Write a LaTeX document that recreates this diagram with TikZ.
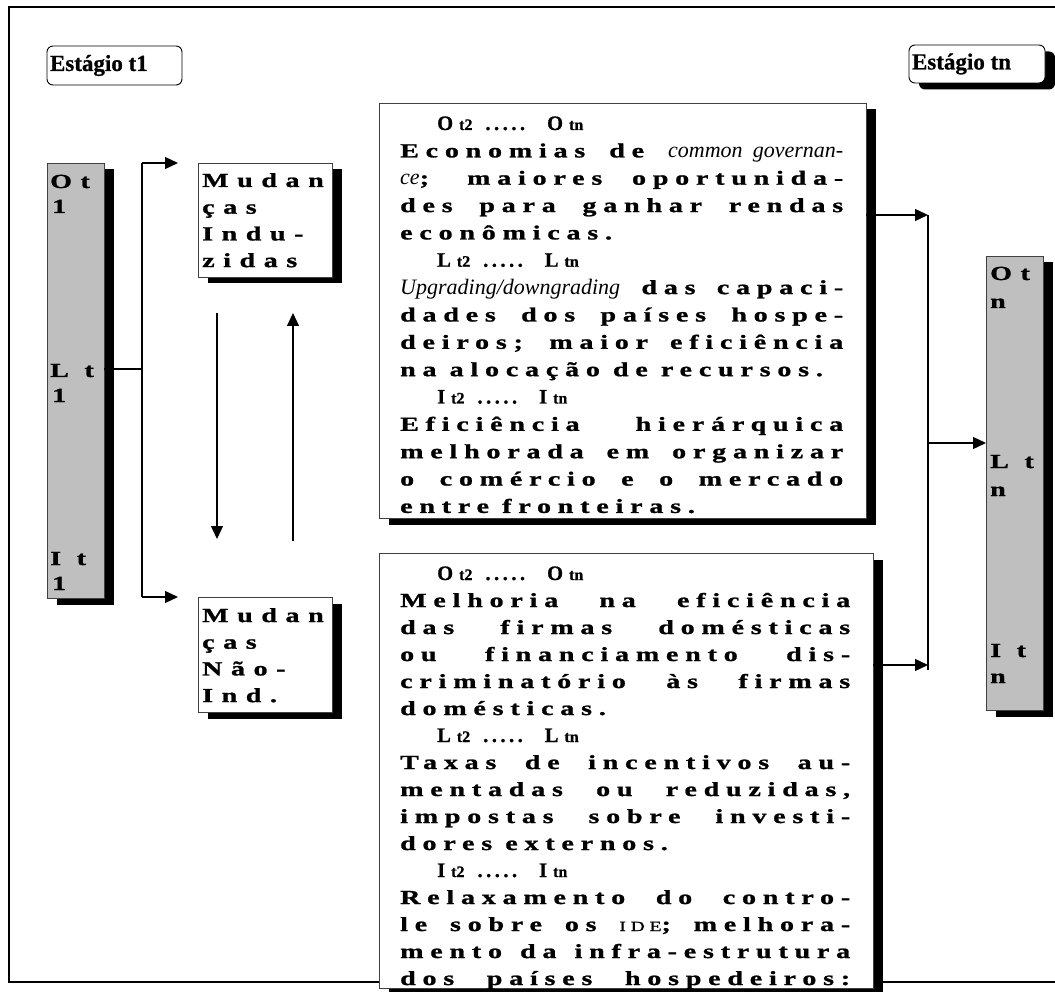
\documentclass[tikz,border=0pt]{standalone}
\usepackage{graphicx}
\usepackage{fontspec}
\setmainfont{Liberation Serif}
\newfontfamily\spfont[LetterSpace=34,FakeStretch=1.4,FakeBold=1.2,WordSpace=0.95,Ligatures=CommonOff]{Liberation Serif}
\newfontfamily\spfontb[LetterSpace=43,FakeStretch=1.4,FakeBold=1.2,Ligatures=CommonOff]{Liberation Serif}
\newfontfamily\hdfont[FakeBold=0.8]{Liberation Serif}
\usetikzlibrary{arrows.meta,shadows,calc}
\newlength\W
\newsavebox\jb
\newcommand\nsi[1]{{\rmfamily\mdseries\itshape\fontsize{22}{22}\selectfont #1}}
\newcommand\jl[1]{\leavevmode\sbox\jb{#1}\ifdim\wd\jb>\W\resizebox{\W}{!}{\usebox\jb}\else\makebox[\W][s]{#1}\fi\par}
\newcommand\lastl[1]{\leavevmode\mbox{#1}\par}
\newcommand\subt[1]{{\fontsize{16}{16}\selectfont #1}}
\newcommand\hd[1]{\leavevmode\mbox{\hspace*{37pt}\hdfont\bfseries\fontsize{20.5}{20.5}\selectfont #1\kern6pt\subt{t2}\hspace{13pt}.\kern3.5pt.\kern3.5pt.\kern3.5pt.\kern3.5pt.\hspace{22pt}#1\kern6pt\subt{tn}}\par}
\newcommand\blk[3]{\vtop{\hsize=#1\relax\W=#1\relax\parindent=0pt\parskip=0pt\lineskiplimit=-100pt\spfont\bfseries\fontsize{20}{#2}\selectfont #3}}
\newcommand\smallblk[1]{\vtop{\hsize=130pt\parindent=0pt\parskip=0pt\lineskiplimit=-100pt\spfontb\bfseries\fontsize{20}{26.7}\selectfont #1}}
\begin{document}
\begin{tikzpicture}[x=1pt,y=-1pt,
  boxline/.style={draw=black!75, line width=0.9pt},
  shadowed/.style={drop shadow={fill=black, opacity=1, shadow xshift=10pt, shadow yshift=-6.5pt}},
  whitebox/.style={boxline, fill=white, inner sep=0pt, outer sep=0pt, anchor=north west, shadowed},
  graycol/.style={whitebox, fill=black!25},
  stagebox/.style={draw=black, line width=0.9pt, rounded corners=6pt, fill=white, inner sep=0pt, outer sep=0pt, anchor=north west, font=\hdfont\bfseries\fontsize{23}{23}\selectfont},
  lbl/.style={inner sep=0pt, anchor=base west, font=\spfontb\bfseries\fontsize{20}{20}\selectfont},
  conn/.style={line width=1.3pt},
  arr/.style={conn, -{Triangle[length=13pt,width=12pt]}},
  txt/.style={inner sep=0pt, anchor=base west}]
\useasboundingbox (0,0) rectangle (1055,992);
\draw[line width=2.6pt] (9,7) rectangle (1080,982);

% stage labels
\node[stagebox, minimum width=135pt, minimum height=39pt] (st1) at (47,46) {\makebox[129pt][l]{Estágio t1}};
\node[stagebox, shadowed, minimum width=136pt, minimum height=38pt] (stn) at (909,45) {\makebox[130pt][l]{Estágio tn}};

% columns
\node[graycol, minimum width=57pt, minimum height=435pt] (colL) at (47,163) {};
\node[graycol, minimum width=57pt, minimum height=454pt] (colR) at (986,256) {};

% boxes
\node[whitebox, minimum width=134pt, minimum height=114pt] (mInd) at (198,163) {};
\node[whitebox, minimum width=134pt, minimum height=115pt] (mNao) at (198,597) {};
\node[whitebox, minimum width=487pt, minimum height=415pt] (topBox) at (379,103) {};
\node[whitebox, minimum width=494pt, minimum height=435pt] (botBox) at (379,553) {};

% column labels
\node[lbl] (lo1) at (50,188) {Ot};
\node[lbl] (lo2) at (52,213) {1};
\node[lbl] (ll1) at (50,377) {L t};
\node[lbl] (ll2) at (52,402) {1};
\node[lbl] (li1) at (50,565) {I t};
\node[lbl] (li2) at (52,590) {1};
\node[lbl] (ro1) at (990,280) {Ot};
\node[lbl] (ro2) at (990,308) {n};
\node[lbl] (rl1) at (990,468) {L t};
\node[lbl] (rl2) at (990,496) {n};
\node[lbl] (ri1) at (990,657) {I t};
\node[lbl] (ri2) at (990,683) {n};

% small box texts
\node[txt] (tInd) at (202,187) {\smallblk{\lastl{Mudan}\lastl{ças}\lastl{Indu-}\lastl{zidas}}};
\node[txt] (tNao) at (202,622) {\smallblk{\lastl{Mudan}\lastl{ças}\lastl{Não-}\lastl{Ind.}}};

% top box text
\node[txt] (topText) at (400,130) {\blk{443pt}{27.35pt}{%
\hd{O}
\jl{Economias de \nsi{common governan-}}
\jl{\nsi{ce}; maiores oportunida-}
\jl{des para ganhar rendas}
\lastl{econômicas.}
\hd{L}
\jl{\nsi{Upgrading/downgrading} das capaci-}
\jl{dades dos países hospe-}
\jl{deiros; maior eficiência}
\lastl{na alocação de recursos.}
\hd{I}
\jl{Eficiência hierárquica}
\jl{melhorada em organizar}
\jl{o comércio e o mercado}
\lastl{entre fronteiras.}}};

% bottom box text
\begin{scope}
\clip (botBox.north west) rectangle (botBox.south east);
\node[txt] (botText) at (400,580) {\blk{450pt}{27pt}{%
\hd{O}
\jl{Melhoria na eficiência}
\jl{das firmas domésticas}
\jl{ou financiamento dis-}
\jl{criminatório às firmas}
\lastl{domésticas.}
\hd{L}
\jl{Taxas de incentivos au-}
\jl{mentadas ou reduzidas,}
\jl{impostas sobre investi-}
\lastl{dores externos.}
\hd{I}
\jl{Relaxamento do contro-}
\jl{le sobre os {\mdseries\fontsize{14}{14}\selectfont IDE}; melhora-}
\jl{mento da infra-estrutura}
\jl{dos países hospedeiros:}}};
\end{scope}

% left connectors
\coordinate (lt) at (142,163);
\coordinate (lm) at (142,369);
\coordinate (lb) at (142,597);
\draw[conn] (lt) -- (lb);
\draw[conn] (colL.east |- lm) -- (lm);
\draw[arr] (lt) -- ($(mInd.north west)+(-20,0)$);
\draw[arr] (lb) -- ($(mNao.north west)+(-20,0)$);

% middle arrows
\coordinate (d1) at (217,313);
\coordinate (d2) at (217,539);
\coordinate (u1) at (293,541);
\coordinate (u2) at (293,313);
\draw[arr] (d1) -- (d2);
\draw[arr] (u1) -- (u2);

% right connectors
\coordinate (rt) at (928,215);
\coordinate (rm) at (928,443);
\coordinate (rb) at (928,665);
\coordinate (rend) at (928,670);
\draw[conn] (rt) -- (rend);
\draw[arr] (topBox.east |- rt) -- (rt);
\draw[arr] (botBox.east |- rb) -- (rb);
\draw[arr] (rm) -- (colR.west |- rm);
\end{tikzpicture}
\end{document}
